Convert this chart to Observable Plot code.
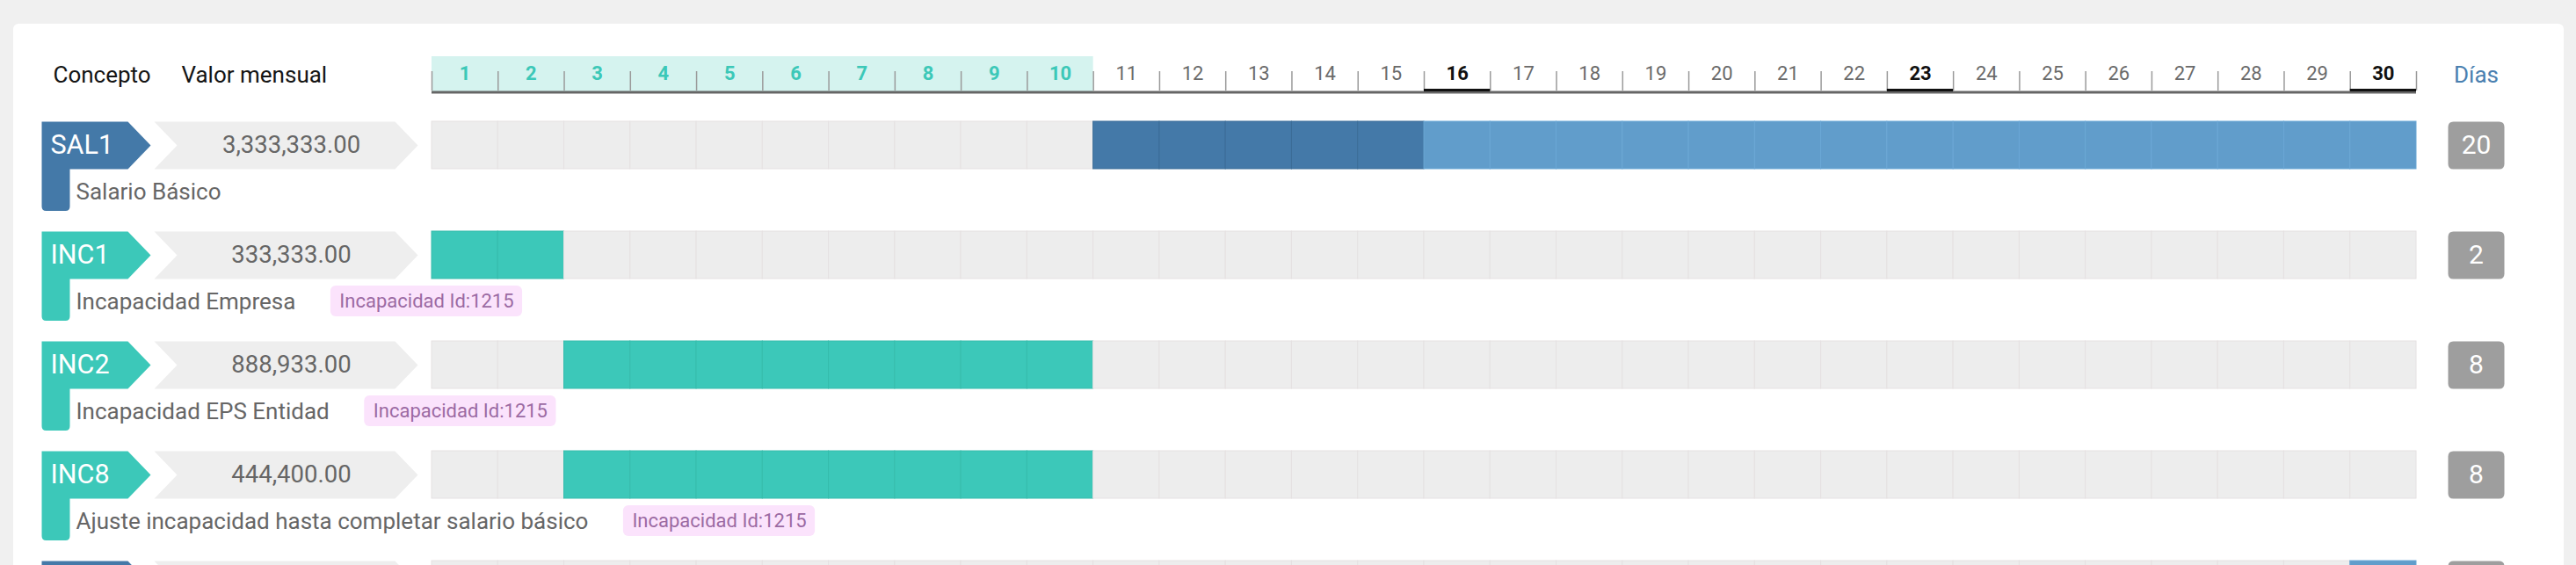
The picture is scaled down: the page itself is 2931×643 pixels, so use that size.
<!DOCTYPE html>
<html>
<head>
<meta charset="utf-8">
<script src="https://cdn.jsdelivr.net/npm/d3@7"></script>
<script src="https://cdn.jsdelivr.net/npm/@observablehq/plot@0.6"></script>
<style>
  html, body { margin: 0; padding: 0; background: #f0f0f0; width: 2931px; height: 643px; overflow: hidden; font-family: Roboto, sans-serif; }
  #card { position: absolute; left: 15px; top: 27px; width: 2902px; height: 700px; background: #ffffff; border-radius: 6px; }
  #chart { position: absolute; left: 0; top: 0; }
</style>
</head>
<body>
<div id="card"></div>
<div id="chart"></div>
<script>
// ---------------- DATA ----------------
const rowIds = ["r1", "r2", "r3", "r4", "r5"];
const codes = ["SAL1", "INC1", "INC2", "INC8", ""];
const monthlyValues = [3333333, 333333, 888933, 444400, null];
const descriptions = [
  "Salario Básico",
  "Incapacidad Empresa",
  "Incapacidad EPS Entidad",
  "Ajuste incapacidad hasta completar salario básico",
  ""
];
const badges = [null, "Incapacidad Id:1215", "Incapacidad Id:1215", "Incapacidad Id:1215", null];
const conceptTypes = ["salario", "incapacidad", "incapacidad", "incapacidad", "salario"];
const firstDays = [11, 1, 3, 3, 30];
const lastDays = [30, 2, 10, 10, 30];
const dayCounts = [20, 2, 8, 8, null];
const days = d3.range(1, 31);
const highlightedDays = [1, 2, 3, 4, 5, 6, 7, 8, 9, 10];
const boldDays = [16, 23, 30];
const firstFortnightEnd = 15;
const headerLabels = ["Concepto", "Valor mensual"];
const daysLabel = "Días";

// ---------------- LAYOUT / STYLE ----------------
const W = 2931, H = 643;
const X0 = 491, X1 = 2749;          // pixel extent of the day axis
const rowTop = 138, rowStep = 126, barH = 54;
const px = d3.scaleLinear([X0, X1], [0, 30]);   // pixel -> day units (inverse of x scale)
const FONT = "Roboto";

const cellFill = {empty: "#ededed", salQ1: "#4479a8", salQ2: "#619dcb", inc: "#3cc8b9"};
const cellStroke = {empty: "#e5e1e2", salQ1: "#3b6c97", salQ2: "#6ba7d5", inc: "#36bcac"};
const tagColor = {salario: "#4479a8", incapacidad: "#3cc8b9"};

const measureCtx = document.createElement("canvas").getContext("2d");
function textWidth(t, size) { measureCtx.font = `${size}px ${FONT}`; return measureCtx.measureText(t).width; }

// ---------------- DERIVED TABLES ----------------
const rows = rowIds.map((id, i) => ({
  id, code: codes[i], value: monthlyValues[i], desc: descriptions[i], badge: badges[i],
  type: conceptTypes[i], count: dayCounts[i]
}));
const cells = rowIds.flatMap((id, i) => days.map(day => {
  const on = day >= firstDays[i] && day <= lastDays[i];
  const status = !on ? "empty" : conceptTypes[i] === "salario" ? (day <= firstFortnightEnd ? "salQ1" : "salQ2") : "inc";
  return {row: id, day, status};
}));
const descX = 86, badgeGap = 40, badgePad = 10, badgeSize = 22, descSize = 26;
const badgeRows = rows.filter(r => r.badge).map(r => {
  const left = descX + textWidth(r.desc, descSize) + badgeGap;
  const w = textWidth(r.badge, badgeSize) + 2 * badgePad;
  return {...r, left, right: left + w, mid: left + w / 2};
});
const labelledRows = rows.filter(r => r.code);

// ---------------- SYMBOLS ----------------
const tagSymbol = {draw(c) {
  c.moveTo(0, -27); c.lineTo(98, -27); c.lineTo(124, 0); c.lineTo(98, 27); c.lineTo(32, 27);
  c.lineTo(32, 69.5); c.quadraticCurveTo(32, 74.5, 27, 74.5); c.lineTo(5, 74.5);
  c.quadraticCurveTo(0, 74.5, 0, 69.5); c.closePath();
}};
const chevronSymbol = {draw(c) {
  c.moveTo(0, -27); c.lineTo(274, -27); c.lineTo(300, 0); c.lineTo(274, 27); c.lineTo(0, 27); c.lineTo(26, 0); c.closePath();
}};
const boxSymbol = {draw(c) {
  const w = 32, h = 27, r = 6;
  c.moveTo(-w + r, -h); c.lineTo(w - r, -h); c.quadraticCurveTo(w, -h, w, -h + r);
  c.lineTo(w, h - r); c.quadraticCurveTo(w, h, w - r, h); c.lineTo(-w + r, h);
  c.quadraticCurveTo(-w, h, -w, h - r); c.lineTo(-w, -h + r); c.quadraticCurveTo(-w, -h, -w + r, -h); c.closePath();
}};

const fmt = d3.format(",.2f");
const normalDays = days.filter(d => !highlightedDays.includes(d) && !boldDays.includes(d));
const axisSize = 22;

const plot = Plot.plot({
  width: W, height: H,
  marginLeft: X0, marginRight: W - X1, marginTop: 0, marginBottom: 0,
  style: {background: "transparent", fontFamily: FONT},
  x: {domain: [0, 30], axis: null},
  y: {type: "band", domain: rowIds, axis: null,
      range: [rowTop, rowTop + rowIds.length * rowStep - (rowStep - barH)],
      paddingInner: (rowStep - barH) / rowStep, paddingOuter: 0, align: 0},
  marks: [
    // header: highlighted period band
    Plot.barX([0], {x1: () => d3.min(highlightedDays) - 1, x2: () => d3.max(highlightedDays), insetTop: 64, insetBottom: H - 104, fill: "#d5f3ef"}),
    // ticks at day boundaries
    Plot.ruleX(d3.range(0, 31), {x: d => d, insetTop: 81, insetBottom: H - 103, stroke: "#9a9a9a", strokeWidth: 1.5}),
    // axis baseline
    Plot.barX([0], {x1: () => 0, x2: () => 30, insetTop: 103.5, insetBottom: H - 106.5, fill: "#666666"}),
    // bold-day underline
    Plot.barX(boldDays, {x1: d => d - 1, x2: d => d, insetTop: 101, insetBottom: H - 104, fill: "#111111"}),
    // day labels
    Plot.text(highlightedDays, {x: d => d - 0.5, frameAnchor: "top", lineAnchor: "middle", textAnchor: "middle", dy: 83, text: d => String(d), fill: "#3cc8b8", fontWeight: "bold", fontSize: axisSize, fontFamily: FONT}),
    Plot.text(boldDays, {x: d => d - 0.5, frameAnchor: "top", lineAnchor: "middle", textAnchor: "middle", dy: 83, text: d => String(d), fill: "#111111", fontWeight: "bold", fontSize: axisSize, fontFamily: FONT}),
    Plot.text(normalDays, {x: d => d - 0.5, frameAnchor: "top", lineAnchor: "middle", textAnchor: "middle", dy: 83, text: d => String(d), fill: "#6a6a6a", fontSize: axisSize, fontFamily: FONT}),
    // header labels
    Plot.text(headerLabels, {x: (d, i) => px([60, 206][i]), frameAnchor: "top", lineAnchor: "middle", textAnchor: "start", dy: 85, text: d => d, fill: "#141414", fontSize: 26, fontFamily: FONT}),
    Plot.text([daysLabel], {x: () => px(2817), frameAnchor: "top", lineAnchor: "middle", textAnchor: "middle", dy: 85, text: d => d, fill: "#4a80b0", fontSize: 26, fontFamily: FONT}),

    // day cells
    Plot.barX(cells, {x1: d => d.day - 1, x2: d => d.day, y: "row", fill: d => cellFill[d.status], stroke: d => cellStroke[d.status], strokeWidth: 1}),

    // concept tag
    Plot.dot(rows, {x: () => px(47), y: "id", symbol: tagSymbol, fill: d => tagColor[d.type], stroke: "none"}),
    Plot.text(labelledRows, {x: () => px(57), y: "id", text: "code", textAnchor: "start", lineAnchor: "middle", fill: "white", fontSize: 30.5, fontFamily: FONT}),
    // monthly value chevron
    Plot.dot(rows, {x: () => px(175), y: "id", symbol: chevronSymbol, fill: "#eeeeee", stroke: "none"}),
    Plot.text(labelledRows, {x: () => px(331), y: "id", text: d => fmt(d.value), textAnchor: "middle", lineAnchor: "middle", fill: "#666666", fontSize: 27.5, fontFamily: FONT}),
    // description
    Plot.text(labelledRows, {x: () => px(descX), y: "id", dy: 53, text: "desc", textAnchor: "start", lineAnchor: "middle", fill: "#666666", fontSize: descSize, fontFamily: FONT}),
    // badges
    Plot.barX(badgeRows, {x1: d => px(d.left), x2: d => px(d.right), y: "id", insetTop: 9.5, insetBottom: 9.5, dy: 52.5, rx: 6, fill: "#fbe3fc"}),
    Plot.text(badgeRows, {x: d => px(d.mid), y: "id", dy: 52.5, text: "badge", textAnchor: "middle", lineAnchor: "middle", fill: "#9b6aa3", fontSize: badgeSize, fontFamily: FONT}),
    // day count box
    Plot.dot(rows, {x: () => px(2817), y: "id", symbol: boxSymbol, fill: "#9e9e9e", stroke: "none"}),
    Plot.text(labelledRows, {x: () => px(2817), y: "id", text: d => String(d.count), textAnchor: "middle", lineAnchor: "middle", fill: "white", fontSize: 30, fontFamily: FONT})
  ]
});
document.getElementById("chart").appendChild(plot);
</script>
</body>
</html>
